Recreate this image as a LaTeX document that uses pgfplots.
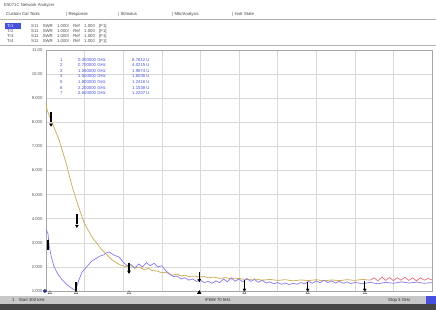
\documentclass[border=0pt]{standalone}
\usepackage{pgfplots}
\pgfplotsset{compat=1.18}
\usepackage{fontspec}
\setmainfont{Liberation Sans}
\definecolor{trA}{RGB}{200,170,80}
\definecolor{trB}{RGB}{140,120,235}
\definecolor{trC}{RGB}{230,110,130}
\definecolor{mkblue}{RGB}{70,80,220}
\definecolor{bar1}{RGB}{200,200,200}
\definecolor{bar2}{RGB}{70,70,70}
\newcommand{\tf}{\fontsize{4.3}{5}\selectfont}
\begin{document}
\begin{tikzpicture}
\useasboundingbox (0,0) rectangle (436bp,310bp);
\fill[white] (0,0) rectangle (436bp,310bp);
% header
\node[anchor=west,inner sep=0,text=black!70] at (4bp,305bp) {\tf E5071C Network Analyzer};
\node[anchor=west,inner sep=0,text=black!75] at (6bp,296bp) {\tf Custom Cal Tools};
\node[anchor=west,inner sep=0,text=black!75] at (66bp,296bp) {\tf \textbar\ Response};
\node[anchor=west,inner sep=0,text=black!75] at (118bp,296bp) {\tf \textbar\ Stimulus};
\node[anchor=west,inner sep=0,text=black!75] at (172bp,296bp) {\tf \textbar\ Mkr/Analysis};
\node[anchor=west,inner sep=0,text=black!75] at (232bp,296bp) {\tf \textbar\ Instr State};
\draw[black!30] (0,291bp) -- (436bp,291bp);
\fill[mkblue] (5bp,281bp) rectangle (21bp,287bp);
\foreach \r/\yy/\c in {1/284/white,2/279/black!70,3/274/black!70,4/269/black!70}{
  \node[anchor=west,inner sep=0,text=\c] at (7bp,\yy bp) {\tf Tr\r};
}
\foreach \r/\yy in {1/284,2/279,3/274,4/269}{
  \node[anchor=west,inner sep=0,text=black!70] at (31bp,\yy bp) {\tf S11\quad SWR\quad 1.000/\quad Ref\quad 1.000\quad [F1]};
}
\draw[black!30] (0,265bp) -- (436bp,265bp);
% status bar
\fill[bar1] (0,6bp) rectangle (436bp,14bp);
\fill[bar2] (0,0) rectangle (436bp,6bp);
\fill[mkblue] (426bp,6bp) rectangle (436bp,14bp);
\node[anchor=west,inner sep=0,text=black!80] at (12bp,10bp) {\tf 1\quad Start 300 kHz};
\node[anchor=west,inner sep=0,text=black!80] at (205bp,10bp) {\tf IFBW 70 kHz};
\node[anchor=west,inner sep=0,text=black!80] at (388bp,10bp) {\tf Stop 3 GHz};
\begin{axis}[
  at={(46bp,19bp)}, anchor=south west,
  width=386bp, height=241bp, scale only axis,
  xmin=0, xmax=10, ymin=1, ymax=11,
  xtick={0,...,10}, xticklabels={},
  ytick={1,...,11},
  yticklabels={1.000,2.000,3.000,4.000,5.000,6.000,7.000,8.000,9.000,10.00,11.00},
  yticklabel style={font=\tf, text=black!65},
  /pgf/number format/assume math mode=true,
  major tick length=0pt,
  grid=major, grid style={black!15, line width=0.5pt},
  axis line style={black!35},
  clip=false,
]
\addplot[trA, line width=0.7pt] coordinates {
(0,8.8)(0.03,8.5)(0.16,7.97)(0.34,7.27)(0.52,6.31)(0.68,5.32)(0.81,4.65)(0.99,3.82)(1.19,3.24)(1.45,2.70)(1.71,2.29)(1.9,2.1)(2.08,2.0)(2.2,2.05)(2.3,1.95)(2.42,2.0)(2.55,1.88)(2.65,1.95)(2.75,1.85)(2.9,1.82)(3.0,1.75)(3.1,1.78)(3.27,1.66)(3.4,1.7)(3.5,1.62)(3.6,1.66)(3.7,1.6)(3.85,1.62)(3.97,1.58)(4.1,1.6)(4.2,1.55)(4.35,1.58)(4.5,1.52)(4.65,1.56)(4.8,1.5)(5.0,1.52)(5.2,1.47)(5.4,1.5)(5.6,1.45)(5.8,1.48)(6.0,1.44)(6.2,1.47)(6.4,1.42)(6.6,1.46)(6.8,1.43)(7.0,1.47)(7.2,1.42)(7.4,1.46)(7.6,1.43)(7.8,1.47)(8.0,1.44)(8.2,1.48)(8.4,1.45)
};
\addplot[trC, line width=0.7pt] coordinates {
(8.4,1.45)(8.5,1.55)(8.6,1.42)(8.7,1.58)(8.8,1.44)(8.9,1.56)(9.0,1.43)(9.1,1.55)(9.2,1.45)(9.3,1.57)(9.4,1.44)(9.5,1.54)(9.6,1.42)(9.7,1.55)(9.8,1.45)(9.9,1.52)(10,1.46)
};
\addplot[trB, line width=0.7pt] coordinates {
(0,3.55)(0.05,3.4)(0.08,2.9)(0.14,2.4)(0.21,2.0)(0.3,1.72)(0.42,1.46)(0.55,1.25)(0.68,1.1)(0.76,1.03)(0.8,1.2)(0.85,1.45)(0.94,1.8)(1.05,2.0)(1.19,2.25)(1.3,2.35)(1.4,2.45)(1.5,2.5)(1.56,2.58)(1.64,2.62)(1.75,2.5)(1.9,2.4)(2.0,2.2)(2.1,2.05)(2.2,2.1)(2.3,1.95)(2.4,2.12)(2.5,2.0)(2.6,2.18)(2.7,2.05)(2.8,2.15)(2.9,2.0)(3.0,2.05)(3.1,1.85)(3.2,1.7)(3.3,1.6)(3.4,1.62)(3.5,1.5)(3.6,1.55)(3.7,1.45)(3.8,1.5)(3.9,1.4)(4.0,1.45)(4.1,1.35)(4.2,1.4)(4.3,1.32)(4.4,1.42)(4.5,1.35)(4.6,1.5)(4.7,1.38)(4.8,1.55)(4.9,1.4)(5.0,1.5)(5.1,1.38)(5.2,1.52)(5.3,1.4)(5.4,1.48)(5.5,1.36)(5.6,1.45)(5.7,1.33)(5.8,1.38)(5.9,1.3)(6.0,1.35)(6.1,1.28)(6.2,1.33)(6.3,1.27)(6.4,1.32)(6.5,1.28)(6.6,1.35)(6.7,1.3)(6.8,1.4)(6.9,1.32)(7.0,1.42)(7.1,1.34)(7.2,1.45)(7.3,1.35)(7.4,1.42)(7.5,1.33)(7.6,1.4)(7.7,1.32)(7.8,1.38)(7.9,1.3)(8.0,1.36)(8.2,1.3)(8.4,1.36)(8.6,1.3)(8.8,1.36)(9.0,1.32)(9.2,1.38)(9.4,1.33)(9.6,1.37)(9.8,1.32)(10,1.35)
};
% markers on traces
\addplot[black, only marks, mark=|, mark size=5pt, mark options={line width=1.3pt}] coordinates {
(0.05,2.9)(0.13,8.2)(0.8,4.0)(0.78,1.15)(2.15,1.95)(3.97,1.6)(5.14,1.25)(6.78,1.15)(8.26,1.22)
};
\addplot[black, only marks, mark=triangle*, mark size=1.6pt, mark options={rotate=180}] coordinates {
(0.13,7.9)(0.8,3.7)(2.15,1.8)(3.97,1.45)(5.14,1.05)(6.78,1.05)(8.26,1.05)
};
% marker indicators below axis
\addplot[black!60, only marks, mark=triangle, mark size=2pt] coordinates {
(0.1,0.93)(0.78,0.93)(2.15,0.93)(5.14,0.93)(6.78,0.93)(8.26,0.93)
};
\addplot[black, only marks, mark=triangle*, mark size=2.2pt] coordinates {(3.97,0.93)};
\addplot[mkblue!60!black, only marks, mark=*, mark size=1.8pt] coordinates {(-0.03,1.0)};
\end{axis}
% marker table
\foreach \n/\f/\v [count=\i] in {1/0.300000/8.7612,2/0.700000/4.0215,3/1.050000/1.9874,4/1.500000/1.6035,5/1.800000/1.2416,6/2.200000/1.1538,7/2.600000/1.2207}{
  \node[anchor=west,inner sep=0,text=mkblue] at (60bp,{(256-\i*5.6)*1bp}) {\tf \n};
  \node[anchor=west,inner sep=0,text=mkblue] at (78bp,{(256-\i*5.6)*1bp}) {\tf \f\ GHz};
  \node[anchor=west,inner sep=0,text=mkblue] at (132bp,{(256-\i*5.6)*1bp}) {\tf \v\ U};
}
\end{tikzpicture}
\end{document}
